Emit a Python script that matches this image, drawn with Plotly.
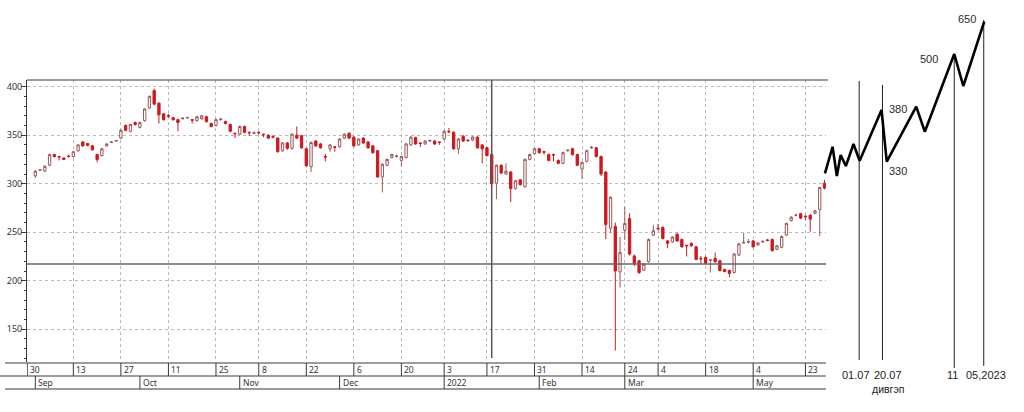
import plotly.graph_objects as go

# ---------------- data ----------------
opens = [308, 314, 313, 319, 330, 328, 326.5, 328.5, 328, 334,
         343, 341.5, 339, 330, 329, 339, 342.5, 344, 347, 360,
         354, 363, 358, 365, 378, 396, 383, 372, 370, 368,
         366, 367, 368, 366, 365, 367, 369, 362, 360, 366,
         364, 361, 352, 351, 359, 353, 352, 353, 351, 350,
         348.5, 347, 334, 342, 336.5, 350, 349.5, 336, 317.5, 344,
         341, 328, 336, 338, 338, 347, 352, 348, 340, 347,
         343, 339, 334, 307, 319, 327, 328, 324, 327, 340,
         347.5, 342, 341, 344, 344, 343, 346, 354, 353, 336,
         349, 345, 345, 348, 340, 337, 330, 300.5, 319, 310,
         312, 295, 304, 297, 325, 331, 336, 333, 330, 330,
         324, 321, 334, 336, 330, 315, 323, 337, 337, 328,
         312, 254, 256, 209, 252, 264, 225.5, 220.5, 211, 219.5,
         247, 254, 255, 241, 240, 248, 242.5, 236.5, 238.5, 235,
         223, 224, 221, 223, 220.5, 211.5, 210.5, 208.5, 226.5, 239,
         240, 241, 237, 240, 242, 242.5, 232.5, 234.5, 247, 262,
         267.5, 269, 266.5, 267.5, 269.5, 273.5, 300.5]
closes = [313, 314.5, 318, 330, 328, 327.5, 325, 328, 333, 340,
          339, 339.5, 335, 325, 336, 341, 343, 344.5, 355, 355,
          361, 361, 363, 377, 390, 382, 371, 366, 369.5, 366,
          363, 367.5, 368, 365.5, 369, 370, 364, 359, 366, 366.5,
          362, 354, 351.5, 359, 353, 352.5, 352.5, 352.5, 350.5, 347,
          348, 333, 342, 336.5, 351, 347, 337, 318.5, 342.5, 339,
          337, 327.5, 340, 337.5, 346, 351, 347, 339, 346, 342,
          337, 332, 307, 320, 325, 330, 328.5, 328, 341, 348,
          341, 341.5, 344, 344.5, 341, 342.5, 354, 353.5, 336, 346,
          344, 344.5, 348, 337, 336, 329, 300, 319, 311, 313,
          295, 303, 299, 325, 330, 336, 332, 332.5, 324, 329.5,
          321, 332, 334.5, 330, 319, 322, 334, 337.5, 328, 310,
          258, 286, 210, 229, 259, 227.5, 218, 208.5, 217, 242.5,
          251.5, 253.5, 243.5, 238.5, 245, 241, 235, 236, 236, 222,
          222.5, 218, 221.5, 219.5, 210.5, 209.5, 207.5, 227.5, 238, 239.5,
          240, 235, 239, 240.5, 241.5, 231, 236, 245.5, 259, 265.5,
          267.5, 264.5, 266, 263.5, 272, 296, 295.5]
highs = [314, 315, 319, 331, 331, 328.5, 327, 330, 334, 341,
         344, 342, 340, 331, 337, 341.5, 344, 345, 356, 361,
         362, 364, 364, 378, 391, 398, 384, 373, 372, 369,
         367, 368.5, 369, 366.5, 370, 371, 370, 363, 367, 368,
         365, 362, 352.5, 360, 360, 353.5, 354, 354, 351.5, 351,
         350, 348, 343, 343, 352, 359, 350, 337, 343.5, 345,
         342, 330.5, 341, 338.5, 347, 352, 353, 349, 347, 348,
         344, 340, 335, 321, 326, 331, 330, 329, 342, 349,
         348.5, 342.5, 345, 345.5, 345, 343.5, 355, 357.5, 354, 347,
         350, 345.5, 349, 349, 341, 338, 331, 320, 320, 321,
         313, 304, 305, 326, 331, 337, 337, 334, 331, 331,
         325, 333, 335.5, 337, 331, 323, 335, 339, 338, 329,
         313, 287, 260, 245, 276, 269.5, 227, 221.5, 218, 243.5,
         257.5, 258.5, 256, 242, 246, 249, 243.5, 237, 239.5, 236,
         225.5, 225, 222.5, 229, 221.5, 212.5, 211.5, 228.5, 239, 249,
         243, 242, 240, 241.5, 243, 243.5, 237, 246.5, 260, 266.5,
         269, 270, 267.5, 268.5, 273, 297, 304]
lows = [306, 313, 312, 318, 327, 324, 324.5, 327, 327, 333,
        338, 338.5, 334, 322, 328, 338.5, 342, 343, 346, 354,
        353, 360, 357, 364, 377, 381, 362, 365, 368, 365,
        354, 366, 367, 362, 364, 366, 363, 358, 359, 365,
        361, 353, 347, 350, 352, 349, 351, 351, 348, 346,
        347, 332, 333, 335, 335, 346, 336, 317, 312, 338,
        336, 323, 333, 333, 337, 346, 346, 338, 339, 341,
        336, 331, 306, 291, 318, 326, 327, 318, 326, 339,
        340, 338, 340, 343, 340, 340, 345, 352, 335, 331,
        343, 343, 344, 336, 321, 328, 299, 284, 310, 309,
        281, 294, 298, 296, 324, 330, 331, 330, 323, 323,
        320, 320, 333, 329, 318, 305, 322, 336, 327, 308,
        243, 249.5, 128, 193, 242, 226, 215, 207, 210, 218.5,
        246, 252, 242.5, 233.5, 239, 240, 234, 225, 235, 221,
        218, 217, 208.5, 218.5, 209.5, 208.5, 203.5, 207.5, 225.5, 238,
        238.5, 234, 236, 239, 240.5, 230, 231.5, 233.5, 246, 261,
        266.5, 263.5, 262.5, 250.5, 268.5, 246, 294]
days = list(range(len(opens)))

# axis labels (trading-day index of each label)
tick_idx = [-1.7, 8, 18, 28, 38, 47, 57, 67, 77, 86, 95, 105, 115, 124, 131, 141, 151, 162]
tick_text = ["30", "13", "27", "11", "25", "8", "22", "6", "20", "3", "17", "31", "14", "24", "4", "18", "4", "23"]
month_idx = [0, 22, 43, 64, 86, 106, 124, 151]
month_text = ["Sep", "Oct", "Nov", "Dec", "2022", "Feb", "Mar", "May"]
price_ticks = [150, 200, 250, 300, 350, 400]

# reference lines drawn on the chart
support_level = 217.2
marker_day = 96

# hand-drawn projection (trading-day index, price)
proj_idx = [166.1, 167.7, 168.6, 169.4, 170.5, 172.1, 173.4, 178.0, 179.1, 185.3, 187.1, 193.3, 195.2, 199.6]
proj_price = [310.7, 338.1, 307.9, 329.6, 318.2, 340.9, 323.7, 376.0, 322.7, 379.4, 353.6, 433.7, 400.7, 467.0]
mark_idx = [173.3, 178.2, 193.3, 199.5]
mark_top = [405.9, 401.8, 433.7, 468.8]
mark_bottom = [118.2, 118.2, 110.0, 112.1]
mark_label_idx = [172.6, 179.4, 193.0, 199.9]
mark_labels = ["01.07", "20.07", "11", "05,2023"]
level_labels = ["380", "330", "500", "650"]
level_idx = [181.5, 181.5, 188.0, 196.0]
level_price = [377.0, 313.0, 428.5, 469.8]

# ---------------- layout geometry ----------------
W, H = 1024, 412
x_range = [-1.75, 166.32]
y_range = [116.2, 406.9]
x_dom = [27 / W, 826 / W]
y_dom = [(H - 362) / H, (H - 80) / H]


def full_range(r, dom):
    k = (r[1] - r[0]) / (dom[1] - dom[0])
    return [r[0] - dom[0] * k, r[1] + (1 - dom[1]) * k]


x2_range = full_range(x_range, x_dom)
y2_range = full_range(y_range, y_dom)

AX = "#3a3a3a"
TXT = "#333333"
GRID = "#bababa"
SMALL = dict(size=8.5, color=TXT, family="Noto Sans, sans-serif")

fig = go.Figure()
fig.add_trace(go.Candlestick(
    x=days, open=opens, high=highs, low=lows, close=closes,
    increasing=dict(line=dict(color="#9a5a5a", width=1), fillcolor="#ffffff"),
    decreasing=dict(line=dict(color="#c81c22", width=1), fillcolor="#d2161e"),
    whiskerwidth=0, showlegend=False, hoverinfo="skip",
))

# projection sketch on a full-figure axis pair aligned with the chart scales
mx, my = [], []
for xi, t, b in zip(mark_idx, mark_top, mark_bottom):
    mx += [xi, xi, None]
    my += [t, b, None]
fig.add_trace(go.Scatter(x=mx, y=my, mode="lines", xaxis="x2", yaxis="y2",
                         line=dict(color="#222222", width=1), showlegend=False, hoverinfo="skip"))
fig.add_trace(go.Scatter(x=proj_idx, y=proj_price, mode="lines", xaxis="x2", yaxis="y2",
                         line=dict(color="#000000", width=2.6), showlegend=False, hoverinfo="skip"))

fig.update_layout(
    width=W, height=H, margin=dict(l=0, r=0, t=0, b=0),
    paper_bgcolor="white", plot_bgcolor="rgba(0,0,0,0)",
    font=dict(family="Liberation Sans, Arial, sans-serif", color=TXT),
    hovermode=False,
    xaxis=dict(domain=x_dom, range=x_range, rangeslider=dict(visible=False),
               tickvals=tick_idx, showticklabels=False, ticks="",
               showgrid=True, gridcolor=GRID, griddash="3px,3px", gridwidth=1,
               showline=False, zeroline=False),
    yaxis=dict(domain=y_dom, range=y_range, tickvals=price_ticks,
               ticks="outside", ticklen=5, tickcolor=AX, ticklabelstandoff=-3,
               minor=dict(dtick=10, ticks="outside", ticklen=2, tickcolor=AX, showgrid=False),
               showgrid=True, gridcolor=GRID, griddash="3px,3px", gridwidth=1,
               showline=True, linecolor=AX, linewidth=1, zeroline=False,
               tickfont=dict(size=9, color=TXT, family="Noto Sans, sans-serif")),
    xaxis2=dict(domain=[0, 1], range=x2_range, anchor="y2", visible=False),
    yaxis2=dict(domain=[0, 1], range=y2_range, anchor="x2", visible=False),
)

shapes = []
# top border of the price panel
shapes.append(dict(type="line", xref="paper", yref="paper", x0=x_dom[0], x1=828 / W,
                   y0=y_dom[1], y1=y_dom[1], line=dict(color=AX, width=1)))
# support & marker lines
shapes.append(dict(type="line", xref="x", yref="y", x0=x_range[0], x1=x_range[1],
                   y0=support_level, y1=support_level, line=dict(color="#666666", width=1.5)))
shapes.append(dict(type="line", xref="x", yref="paper", x0=marker_day, x1=marker_day,
                   y0=(H - 358) / H, y1=y_dom[1], line=dict(color="#555555", width=1.5)))
# date band
row1_top, row1_bot, row2_bot = (H - 363) / H, (H - 376) / H, (H - 389) / H
shapes.append(dict(type="line", xref="paper", yref="paper", x0=5 / W, x1=x_dom[1],
                   y0=row1_top, y1=row1_top, line=dict(color=AX, width=1)))
shapes.append(dict(type="line", xref="paper", yref="paper", x0=0, x1=x_dom[1],
                   y0=row1_bot, y1=row1_bot, line=dict(color=AX, width=1)))
shapes.append(dict(type="line", xref="paper", yref="paper", x0=5 / W, x1=x_dom[1],
                   y0=row2_bot, y1=row2_bot, line=dict(color="#9a9a9a", width=2)))
for t in tick_idx:
    shapes.append(dict(type="line", xref="x", yref="paper", x0=t, x1=t,
                       y0=row1_bot, y1=row1_top, line=dict(color=AX, width=1)))
for m in month_idx:
    shapes.append(dict(type="line", xref="x", yref="paper", x0=m, x1=m,
                       y0=row2_bot, y1=row1_bot, line=dict(color=AX, width=1)))
fig.update_layout(shapes=shapes)

ann = []
for t, s in zip(tick_idx, tick_text):
    ann.append(dict(x=t, y=(row1_top + row1_bot) / 2, xref="x", yref="paper", text=s,
                    showarrow=False, xanchor="left", yanchor="middle", xshift=1, font=SMALL))
for m, s in zip(month_idx, month_text):
    ann.append(dict(x=m, y=(row1_bot + row2_bot) / 2, xref="x", yref="paper", text=s,
                    showarrow=False, xanchor="left", yanchor="middle", xshift=1, font=SMALL))
for xi, yi, s in zip(level_idx, level_price, level_labels):
    ann.append(dict(x=xi, y=yi, xref="x2", yref="y2", text=s, showarrow=False,
                    font=dict(size=11, color="#2a2a2a")))
for xi, s in zip(mark_label_idx, mark_labels):
    ann.append(dict(x=xi, y=(H - 375) / H, xref="x2", yref="paper", text=s, showarrow=False,
                    yanchor="middle", font=dict(size=11, color="#222222")))
ann.append(dict(x=mark_label_idx[1], y=(H - 389) / H, xref="x2", yref="paper", text="дивгэп",
                showarrow=False, yanchor="middle", font=dict(size=10.5, color="#222222")))
fig.update_layout(annotations=ann)

fig.write_html("out.html", config={"displayModeBar": False, "staticPlot": True},
               post_script="document.body.style.margin='0';")
